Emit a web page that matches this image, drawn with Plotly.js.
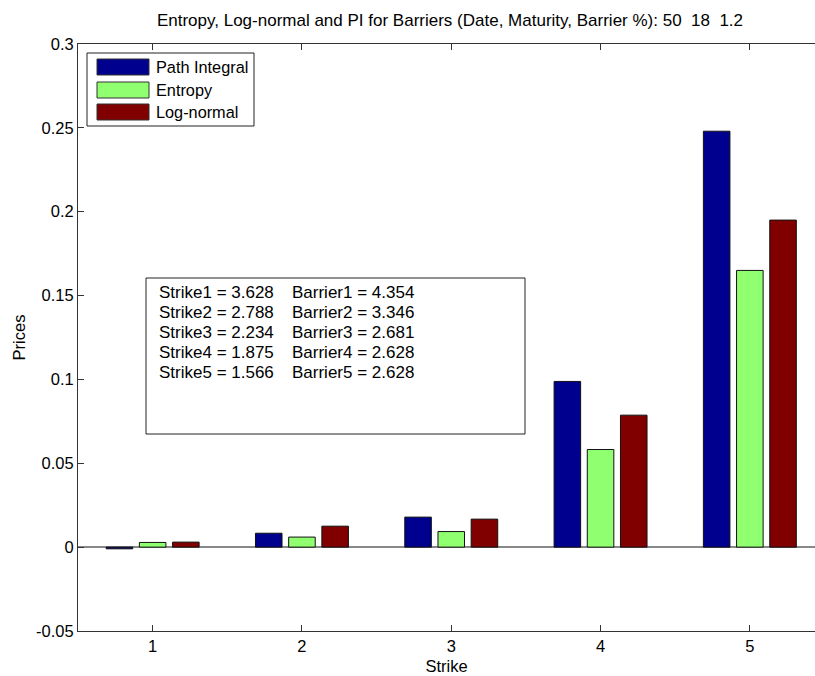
<!DOCTYPE html>
<html>
<head>
<meta charset="utf-8">
<script src="https://cdn.plot.ly/plotly-3.0.1.min.js"></script>
<style>html,body{margin:0;padding:0;background:#fff;}#chart{width:815px;height:676px;}</style>
</head>
<body>
<div id="chart"></div>
<script>
const strikes = [1, 2, 3, 4, 5];
const strikeTickText = ['1', '2', '3', '4', '5'];
const pathIntegral = [-0.001, 0.0083, 0.0179, 0.0988, 0.248];
const entropy = [0.0028, 0.006, 0.0093, 0.0582, 0.165];
const logNormal = [0.003, 0.0125, 0.0167, 0.0787, 0.195];
const seriesNames = ['Path Integral', 'Entropy', 'Log-normal'];
const seriesColors = ['#00008f', '#90ff70', '#800000'];
const yTickVals = [-0.05, 0, 0.05, 0.1, 0.15, 0.2, 0.25, 0.3];
const yTickText = ['-0.05', '0', '0.05', '0.1', '0.15', '0.2', '0.25', '0.3'];
const strikeLines = ['Strike1 = 3.628', 'Strike2 = 2.788', 'Strike3 = 2.234', 'Strike4 = 1.875', 'Strike5 = 1.566'];
const barrierLines = ['Barrier1 = 4.354', 'Barrier2 = 3.346', 'Barrier3 = 2.681', 'Barrier4 = 2.628', 'Barrier5 = 2.628'];
const titleText = 'Entropy, Log-normal and PI for Barriers (Date, Maturity, Barrier %): 50  18  1.2';

const W = 815, H = 676;
const M = {l: 78, r: 0, t: 44, b: 45};
const pw = W - M.l - M.r, ph = H - M.t - M.b;
const px = x => (x - M.l) / pw;
const py = y => (H - M.b - y) / ph;
const FONT = 'Liberation Sans, Arial, sans-serif';

const allSeries = [pathIntegral, entropy, logNormal];
const traces = allSeries.map((vals, i) => ({
  type: 'bar', x: strikes, y: vals, name: seriesNames[i],
  marker: {color: seriesColors[i], line: {color: '#111', width: 1}},
  showlegend: false
}));

const shapes = [];
const annotations = [];
// legend box
shapes.push({type: 'rect', xref: 'paper', yref: 'paper', x0: px(87), x1: px(254), y0: py(53), y1: py(126),
  line: {color: '#222', width: 1}, fillcolor: '#fff', layer: 'above'});
const legTop = [59, 82, 104];
seriesNames.forEach((n, i) => {
  shapes.push({type: 'rect', xref: 'paper', yref: 'paper', x0: px(97), x1: px(149), y0: py(legTop[i]), y1: py(legTop[i] + 16),
    line: {color: '#333', width: 1}, fillcolor: seriesColors[i], layer: 'above'});
  annotations.push({xref: 'paper', yref: 'paper', x: px(154), y: py(legTop[i] + 8), xanchor: 'left', yanchor: 'middle',
    text: n, showarrow: false, font: {family: FONT, size: 16.3, color: '#000'}});
});
// text box
shapes.push({type: 'rect', xref: 'paper', yref: 'paper', x0: px(146), x1: px(525), y0: py(278), y1: py(434),
  line: {color: '#222', width: 1}, fillcolor: 'rgba(0,0,0,0)', layer: 'above'});
strikeLines.forEach((s, i) => {
  const yc = 292 + i * 20;
  annotations.push({xref: 'paper', yref: 'paper', x: px(157), y: py(yc), xanchor: 'left', yanchor: 'middle',
    text: s, showarrow: false, font: {family: FONT, size: 17, color: '#000'}});
  annotations.push({xref: 'paper', yref: 'paper', x: px(290), y: py(yc), xanchor: 'left', yanchor: 'middle',
    text: barrierLines[i], showarrow: false, font: {family: FONT, size: 17, color: '#000'}});
});

const layout = {
  width: W, height: H,
  margin: M,
  paper_bgcolor: '#fff', plot_bgcolor: '#fff',
  font: {family: FONT, size: 16.5, color: '#000'},
  title: {text: titleText, font: {family: FONT, size: 17, color: '#000'},
    xref: 'container', yref: 'container', x: 450 / W, y: 1 - 20 / H, xanchor: 'center', yanchor: 'middle'},
  barmode: 'group', bargap: 0.333, bargroupgap: 0.2,
  xaxis: {range: [0.5, 0.5 + pw / 149.3], tickvals: strikes, ticktext: strikeTickText,
    ticks: 'inside', ticklen: 6, tickcolor: '#333', showline: true, linecolor: '#333', linewidth: 1,
    mirror: 'ticks', showgrid: false, zeroline: false, tickfont: {size: 16.5},
    title: {text: 'Strike', font: {size: 16.5}, standoff: 6}},
  yaxis: {range: [-0.05, 0.3], tickvals: yTickVals, ticktext: yTickText,
    ticks: 'inside', ticklen: 6, tickcolor: '#333', showline: true, linecolor: '#333', linewidth: 1,
    showgrid: false, zeroline: true, zerolinecolor: '#888', zerolinewidth: 1.5, tickfont: {size: 16.5},
    title: {text: 'Prices', font: {size: 16.5}, standoff: 6}},
  shapes: shapes,
  annotations: annotations
};

Plotly.newPlot('chart', traces, layout, {displayModeBar: false, staticPlot: true});
</script>
</body>
</html>
